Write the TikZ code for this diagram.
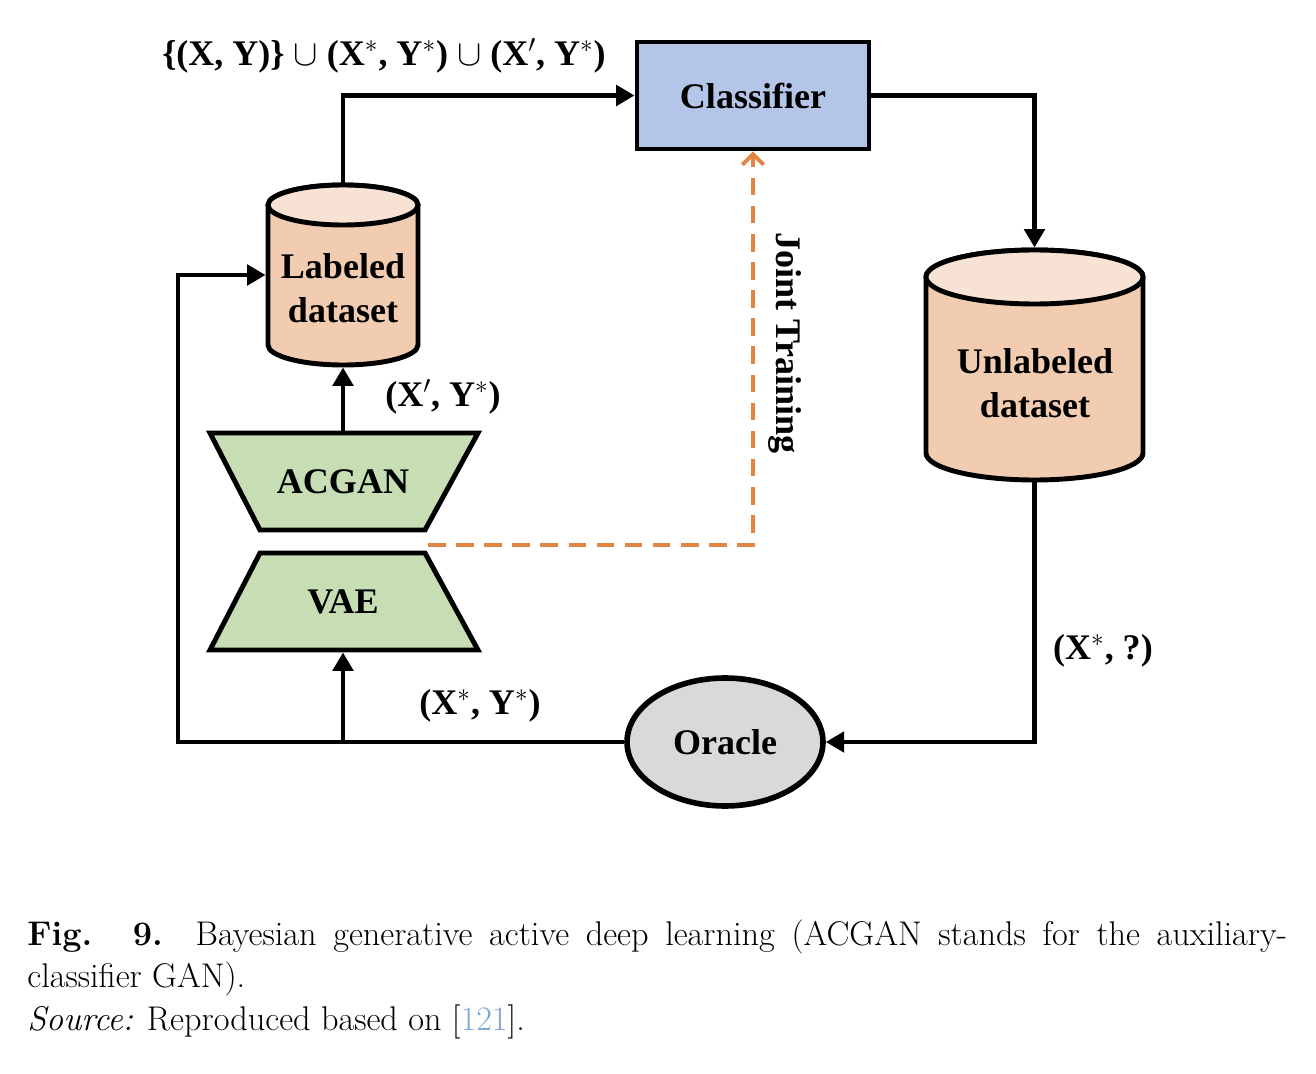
\documentclass[tikz,border=0pt]{standalone}
\usepackage{fontspec}
\newfontfamily\diag{Liberation Serif}
\usetikzlibrary{arrows.meta,shapes.geometric}
\definecolor{clsfill}{RGB}{180,198,231}
\definecolor{cylbody}{RGB}{241,204,176}
\definecolor{cyltop}{RGB}{248,226,211}
\definecolor{ganfill}{RGB}{199,222,181}
\definecolor{orcfill}{RGB}{217,217,217}
\definecolor{jtcol}{RGB}{226,133,66}
\definecolor{citecol}{RGB}{124,168,214}
\begin{document}
\begin{tikzpicture}[x=0.02cm,y=0.02cm,
  lw/.style={line width=2.8pt},
  dfont/.style={font=\diag\bfseries\fontsize{20.5}{25}\selectfont, align=center},
  anchorbox/.style={rectangle, draw=none, inner sep=0pt, outer sep=1.4pt},
  conn/.style={lw, line join=miter, -{Triangle[length=10.5pt,width=11.5pt]}},
  jtline/.style={line width=2.2pt, jtcol, dash pattern=on 10pt off 6pt, -{Straight Barb[length=6pt,width=12pt,line width=2.2pt]}},
  capfont/.style={font=\fontsize{19.5}{24}\selectfont, inner sep=0pt}
]
\useasboundingbox (0,0) rectangle (1316,-1074);

% Classifier
\node[dfont, lw, draw, fill=clsfill, minimum width=4.64cm, minimum height=2.14cm, inner sep=0pt] (cls) at (753,-95.5) {Classifier};

% Labeled dataset cylinder
\draw[lw, fill=cylbody] (268,-205) -- (268,-345) arc[start angle=180,end angle=360,x radius=75,y radius=20] -- (418,-205) arc[start angle=0,end angle=180,x radius=75,y radius=20] -- cycle;
\draw[lw, fill=cyltop] (343,-205) ellipse[x radius=75,y radius=20];
\node[anchorbox, minimum width=3cm, minimum height=3.6cm] (lab) at (343,-275) {};
\node[dfont] (labtxt) at (343,-288) {Labeled\\dataset};

% Unlabeled dataset cylinder
\draw[lw, fill=cylbody] (926,-277) -- (926,-453) arc[start angle=180,end angle=360,x radius=108.5,y radius=27] -- (1143,-277) arc[start angle=0,end angle=180,x radius=108.5,y radius=27] -- cycle;
\draw[lw, fill=cyltop] (1034.5,-277) ellipse[x radius=108.5,y radius=27];
\node[anchorbox, minimum width=4.34cm, minimum height=4.6cm] (unl) at (1034.5,-365) {};
\node[dfont] (unltxt) at (1035,-383) {Unlabeled\\dataset};

% ACGAN and VAE trapezoids
\draw[lw, fill=ganfill, line join=miter] (210,-433) -- (478,-433) -- (425,-530) -- (260,-530) -- cycle;
\node[anchorbox, dfont, minimum width=5.36cm, minimum height=1.94cm] (acg) at (343,-481.5) {ACGAN};
\draw[lw, fill=ganfill, line join=miter] (260,-553) -- (425,-553) -- (478,-650) -- (210,-650) -- cycle;
\node[anchorbox, dfont, minimum width=5.36cm, minimum height=1.94cm] (vae) at (343,-601.5) {VAE};

% Oracle
\node[dfont, ellipse, line width=3.2pt, draw, fill=orcfill, minimum width=3.92cm, minimum height=2.56cm, inner sep=0pt] (ora) at (725,-742) {Oracle};

% connector coordinates
\coordinate (cL) at (178,-742);
\coordinate (br) at (343,-742);
\coordinate (jt) at (428,-545);

% connectors
\draw[conn] (lab.north) |- (cls.west);
\draw[conn] (cls.east) -| (unl.north);
\draw[conn] (unl.south) |- (ora.east);
\draw[conn] (ora.west) -- (cL) |- (lab.west);
\draw[conn] (br) -- (vae.south);
\draw[conn] (acg.north) -- (lab.south);
\draw[jtline] (jt) -| (cls.south);

% labels
\node[dfont] (l1) at (384,-56) {\{(X, Y)\} $\cup$ (X$^{*}$, Y$^{*}$) $\cup$ (X$^{\prime}$, Y$^{*}$)};
\node[dfont] (l2) at (443,-397) {(X$^{\prime}$, Y$^{*}$)};
\node[dfont] (l3) at (480,-706) {(X$^{*}$, Y$^{*}$)};
\node[dfont] (l4) at (1103,-651) {(X$^{*}$, ?)};
\node[dfont, rotate=-90] (l5) at (785,-343) {Joint Training};

% caption
\node[capfont, anchor=base west] (cap1) at (27,-945) {\makebox[25.2cm][s]{\textbf{Fig. 9.} Bayesian generative active deep learning (ACGAN stands for the auxiliary-}};
\node[capfont, anchor=base west] (cap2) at (27,-987) {classifier GAN).};
\node[capfont, anchor=base west] (cap3) at (27,-1030) {\textit{Source:} Reproduced based on [\textcolor{citecol}{121}].};
\end{tikzpicture}
\end{document}
